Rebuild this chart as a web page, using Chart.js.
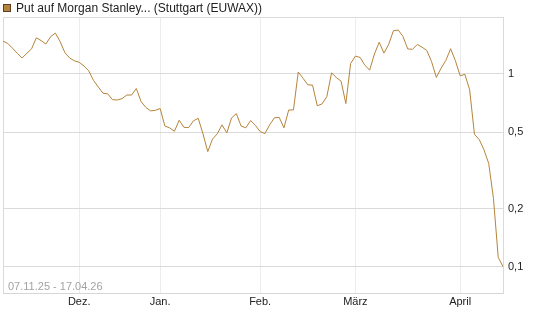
<!DOCTYPE html>
<html>
<head>
<meta charset="utf-8">
<script src="https://cdn.jsdelivr.net/npm/chart.js@4.4.1/dist/chart.umd.min.js"></script>
<style>
  html, body { margin: 0; padding: 0; background: #fff; }
  #wrap { position: relative; width: 545px; height: 327px; }
</style>
</head>
<body>
<div id="wrap"><canvas id="myLineChart"></canvas></div>
<script>
// trading days 07.11.25 - 17.04.26
const dates = [
  '07.11.25','10.11.25','11.11.25','12.11.25','13.11.25','14.11.25','17.11.25','18.11.25','19.11.25','20.11.25','21.11.25','24.11.25','25.11.25','26.11.25','27.11.25','28.11.25',
  '01.12.25','02.12.25','03.12.25','04.12.25','05.12.25','08.12.25','09.12.25','10.12.25','11.12.25','12.12.25','15.12.25','16.12.25','17.12.25','18.12.25','19.12.25','22.12.25','23.12.25',
  '02.01.26','05.01.26','06.01.26','07.01.26','08.01.26','09.01.26','12.01.26','13.01.26','14.01.26','15.01.26','16.01.26','19.01.26','20.01.26','21.01.26','22.01.26','23.01.26','26.01.26','27.01.26','28.01.26','29.01.26','30.01.26',
  '02.02.26','03.02.26','04.02.26','05.02.26','06.02.26','09.02.26','10.02.26','11.02.26','12.02.26','13.02.26','16.02.26','17.02.26','18.02.26','19.02.26','20.02.26','23.02.26','24.02.26','25.02.26','26.02.26','27.02.26',
  '02.03.26','03.03.26','04.03.26','05.03.26','06.03.26','09.03.26','10.03.26','11.03.26','12.03.26','13.03.26','16.03.26','17.03.26','18.03.26','19.03.26','20.03.26','23.03.26','24.03.26','25.03.26','26.03.26','27.03.26','30.03.26','31.03.26',
  '01.04.26','02.04.26','07.04.26','08.04.26','09.04.26','10.04.26','13.04.26','14.04.26','15.04.26','17.04.26'
];

const prices = [
  1.48, 1.44, 1.36, 1.28, 1.21, 1.28, 1.35, 1.54, 1.49, 1.43, 1.56, 1.63, 1.47, 1.29, 1.21, 1.17,
  1.15, 1.10, 1.04, 0.927, 0.857, 0.795, 0.789, 0.736, 0.733, 0.745, 0.778, 0.778, 0.841, 0.719, 0.671, 0.644, 0.648,
  0.662, 0.537, 0.526, 0.505, 0.576, 0.529, 0.528, 0.572, 0.589, 0.489, 0.396, 0.460, 0.490, 0.545, 0.495, 0.592, 0.623, 0.537, 0.526, 0.574, 0.542,
  0.503, 0.491, 0.545, 0.593, 0.596, 0.526, 0.651, 0.651, 1.024, 0.951, 0.879, 0.876, 0.684, 0.700, 0.763, 1.013, 0.959, 0.917, 0.703, 1.133,
  1.238, 1.218, 1.109, 1.048, 1.269, 1.461, 1.283, 1.425, 1.679, 1.689, 1.564, 1.348, 1.343, 1.422, 1.377, 1.324, 1.158, 0.960, 1.072, 1.176, 1.352, 1.172,
  0.979, 0.995, 0.828, 0.487, 0.458, 0.405, 0.344, 0.226, 0.112, 0.1004
];

const monthLabels = ['Dez.', 'Jan.', 'Feb.', 'März', 'April'];
const monthStarts = ['01.12.25', '02.01.26', '02.02.26', '02.03.26', '01.04.26'];
const yTicks = [0.1, 0.2, 0.5, 1];

const seriesLabel = 'Put auf Morgan Stanley... (Stuttgart (EUWAX))';
const rangeLabel = '07.11.25 - 17.04.26';
const lineColor = '#b5843a';

function monthFor(index) {
  const pos = monthStarts.indexOf(dates[index]);
  return pos >= 0 ? monthLabels[pos] : '';
}

// frame, legend and date range drawn on the canvas
const decorations = {
  id: 'decorations',
  beforeDatasetsDraw(chart) {
    const { ctx, chartArea: a } = chart;
    ctx.save();
    ctx.strokeStyle = '#dadada';
    ctx.lineWidth = 1;
    ctx.beginPath();
    ctx.moveTo(a.left + 0.5, a.bottom);
    ctx.lineTo(a.left + 0.5, a.top + 0.5);
    ctx.lineTo(a.right, a.top + 0.5);
    ctx.stroke();
    ctx.fillStyle = '#a3a3a3';
    ctx.font = '11px "Liberation Sans", Arial, sans-serif';
    ctx.textBaseline = 'alphabetic';
    ctx.fillText(rangeLabel, a.left + 5, a.bottom - 3);
    ctx.restore();
  },
  afterDraw(chart) {
    const { ctx } = chart;
    ctx.save();
    ctx.fillStyle = lineColor;
    ctx.fillRect(3, 4, 8, 8);
    ctx.strokeStyle = '#5a4020';
    ctx.lineWidth = 1;
    ctx.strokeRect(3.5, 4.5, 7, 7);
    ctx.fillStyle = '#222';
    ctx.font = '12px "Liberation Sans", Arial, sans-serif';
    ctx.textBaseline = 'middle';
    ctx.fillText(seriesLabel, 16, 8.5);
    ctx.restore();
  }
};

const config = {
  type: 'line',
  data: {
    labels: dates,
    datasets: [{
      label: seriesLabel,
      data: prices,
      borderColor: lineColor,
      borderWidth: 1,
      pointRadius: 0,
      tension: 0,
      fill: false
    }]
  },
  options: {
    responsive: true,
    maintainAspectRatio: false,
    animation: false,
    layout: { padding: { left: 3, top: 17, right: 0, bottom: 0 } },
    plugins: {
      legend: { display: false },
      tooltip: { enabled: false }
    },
    scales: {
      x: {
        type: 'category',
        offset: false,
        afterFit: (scale) => { scale.height = 34; },
        grid: {
          drawTicks: false,
          color: (c) => (c.index !== undefined && monthFor(c.index) ? '#ececec' : 'rgba(0,0,0,0)')
        },
        border: { display: true, color: '#d6d6d6' },
        ticks: {
          autoSkip: false,
          maxRotation: 0,
          padding: 2,
          color: '#222',
          font: { family: '"Liberation Sans", Arial, sans-serif', size: 11 },
          callback: (v, i) => monthFor(i)
        }
      },
      y: {
        type: 'logarithmic',
        position: 'right',
        min: 0.0733,
        max: 1.974,
        afterFit: (scale) => { scale.width = 42; },
        afterBuildTicks: (scale) => { scale.ticks = yTicks.map((v) => ({ value: v })); },
        grid: { drawTicks: false, color: '#dadada' },
        border: { display: true, color: '#dadada' },
        ticks: {
          padding: 5,
          color: '#222',
          font: { family: '"Liberation Sans", Arial, sans-serif', size: 11 },
          callback: (v) => String(v).replace('.', ',')
        }
      }
    }
  },
  plugins: [decorations]
};

new Chart(document.getElementById('myLineChart'), config);
</script>
</body>
</html>
